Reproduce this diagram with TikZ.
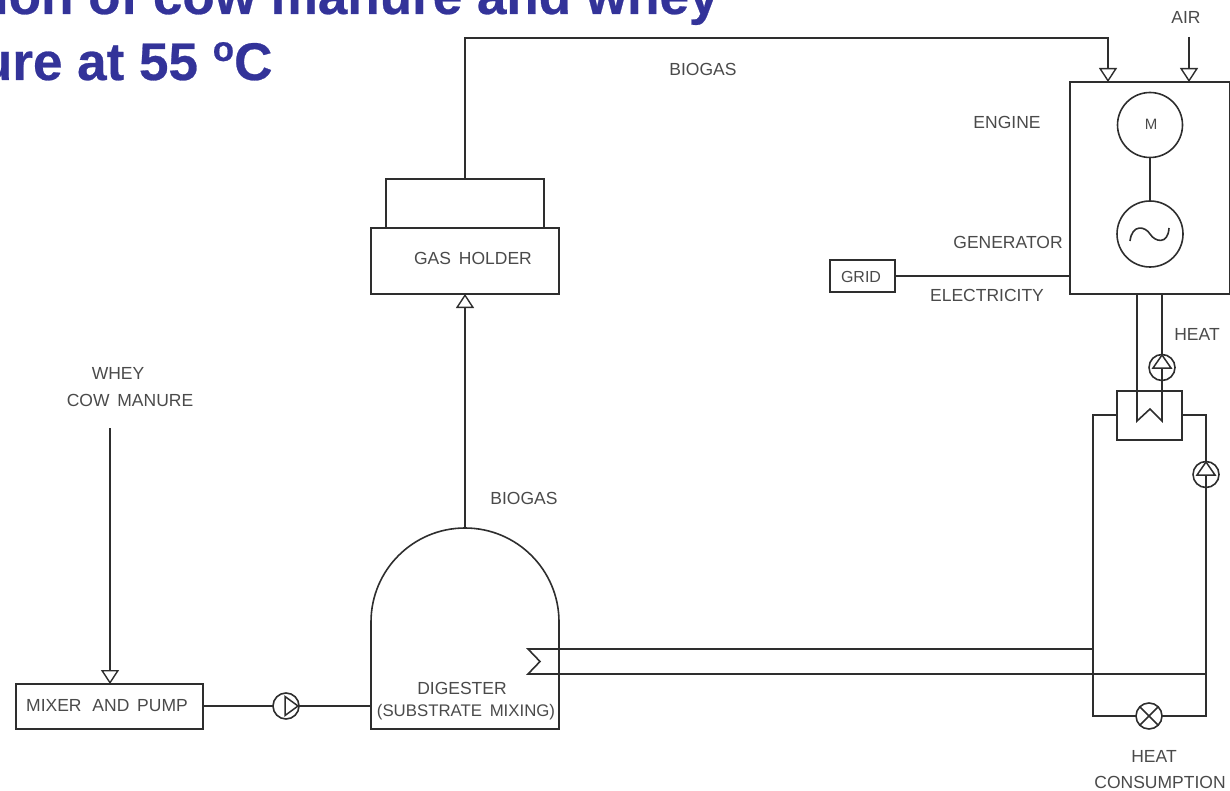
\documentclass[tikz,border=0pt]{standalone}
\usepackage{fontspec}
\setmainfont{Liberation Sans}
\newfontfamily\ttlfont[BoldFeatures={FakeBold=0.5}]{Liberation Sans}
\usetikzlibrary{arrows.meta,calc}
\definecolor{ln}{HTML}{2E2E2E}
\definecolor{tx}{HTML}{4A4A4A}
\definecolor{ttl}{HTML}{333399}
\tikzset{
  conn/.style={draw=ln,line width=1.6pt},
  flow/.style={conn,-{Triangle[open,width=18pt,length=14pt,line width=1.4pt]}},
  boxn/.style={draw=ln,line width=1.6pt,rectangle,inner sep=0,outer sep=0,fill=none},
  ring/.style={draw=ln,line width=1.6pt,circle,inner sep=0,outer sep=0},
  small/.style={ring,minimum size=26pt},
  lab/.style={text=tx,font=\fontsize{17.5}{21}\selectfont,inner sep=0,outer sep=0,align=center},
  ttlab/.style={text=ttl,font=\ttlfont\fontsize{53}{60}\selectfont\bfseries,inner sep=0,outer sep=0,anchor=base west},
  tri/.style={draw=ln,line width=1.5pt,line join=miter}
}
\begin{document}
\begin{tikzpicture}[x=1pt,y=-1pt]
\useasboundingbox (0,0) rectangle (1230,791);
\clip (0,0) rectangle (1230,791);
% title
\node[ttlab] (t1) at (-6,14) {ion of cow manure and whey};
\node[ttlab] (t2) at (-20,80) {ure at 55 \raisebox{0.36em}{\fontsize{35}{40}\selectfont o}C};
% boxes
\node[boxn,minimum width=160pt,minimum height=212pt] (engine) at (1150,188) {};
\node[ring,minimum size=65pt] (motor) at (1150,125) {};
\node[lab,font=\fontsize{15}{18}\selectfont] (mlab) at (1151,124) {M};
\node[ring,minimum size=66pt] (gen) at (1150,234) {};
\node[boxn,minimum width=188pt,minimum height=66pt] (holder) at (465,261) {};
\node[boxn,minimum width=158pt,minimum height=49pt] (holdtop) at (465,203.5) {};
\node[boxn,minimum width=65pt,minimum height=32pt] (grid) at (862.5,276) {};
\node[boxn,minimum width=187pt,minimum height=45pt] (mixer) at (109.5,706.5) {};
\node[boxn,minimum width=65pt,minimum height=49pt] (hx) at (1149.5,415.5) {};
% digester
\draw[conn] (371,729) -- (371,622) arc[start angle=180,end angle=360,radius=94] -- (559,729) -- cycle;
\coordinate (digtop) at (465,528);
\coordinate (digwest) at (371,706);
% free ends
\coordinate (airin) at (1189,37);
\coordinate (whey) at (110,428);
% pumps
\node[small] (p1) at (286,706) {};
\node[small] (p2) at (1162,367.5) {};
\node[small] (p3) at (1206,474.5) {};
\node[small] (valve) at (1149,716) {};
% connectors
\draw[conn] (motor) -- (gen);
\draw[conn] (1130,241) .. controls (1132,224) and (1145,226) .. (1150,234) .. controls (1155,242) and (1168,245) .. (1169,228);
\draw[conn] (grid.east) -- (grid.east -| engine.west);
\draw[flow] (airin) -- (airin |- engine.north);
\draw[flow] (holdtop.north) -- (465,38) -- (1108,38) -- (1108,82);
\draw[flow] (digtop) -- (holder.south);
\draw[flow] (whey) -- (whey |- mixer.north);
\draw[conn] (mixer.east |- p1.west) -- (p1.west);
\draw[conn] (p1.east) -- (digwest);
% pump triangles
\draw[tri] (285,696.5) -- (298,706) -- (285,715.5) -- cycle;
\draw[tri] (1153,368) -- (1162,355) -- (1171,368) -- cycle;
\draw[tri] (1197,475) -- (1206,462) -- (1215,475) -- cycle;
% heat exchanger coil
\coordinate (c1) at (1137,294);
\coordinate (c2) at (1162,294);
\draw[conn,line join=miter] (c1) -- (1137,421) -- (1150,409) -- (1162,421) -- (1162,368);
\draw[conn] (1162,355) -- (c2);
% loop
\coordinate (ll) at (1093,415);
\coordinate (rr) at (1206,415);
\draw[conn] (hx.west |- ll) -- (ll) -- (1093,716) -- (valve.west);
\draw[conn] (hx.east |- rr) -- (rr) -- (p3.north);
\draw[conn] (1206,475) -- (1206,716) -- (valve.east);
\draw[conn] (valve.north west) -- (valve.south east);
\draw[conn] (valve.north east) -- (valve.south west);
% digester coil
\draw[conn,line join=miter] (1093,649) -- (528,649) -- (540,661.5) -- (528,674) -- (1206,674);
% labels
\node[lab] (l1) at (703,69) {BIOGAS};
\node[lab] (l2) at (1186,17) {AIR};
\node[lab] (l3) at (1007,122) {ENGINE};
\node[lab] (l4) at (1008,242) {GENERATOR};
\node[lab,font=\fontsize{16}{20}\selectfont] (l5) at (861,277) {GRID};
\node[lab] (l6) at (987,295) {ELECTRICITY};
\node[lab] (l7) at (1197,334) {HEAT};
\node[lab] (l8) at (473,258) {GAS\hspace{3pt} HOLDER};
\node[lab] (l9) at (524,498) {BIOGAS};
\node[lab] (l10) at (118,373) {WHEY};
\node[lab] (l11) at (130,400) {COW\hspace{3pt} MANURE};
\node[lab] (l12) at (107,706) {MIXER\hspace{6pt} AND\hspace{3pt} PUMP};
\node[lab] (l13) at (462,688) {DIGESTER};
\node[lab,font=\fontsize{16.8}{21}\selectfont] (l14) at (466,712) {(SUBSTRATE\hspace{3pt} MIXING)};
\node[lab] (l15) at (1154,756) {HEAT};
\node[lab] (l16) at (1160,782) {CONSUMPTION};
\end{tikzpicture}
\end{document}
